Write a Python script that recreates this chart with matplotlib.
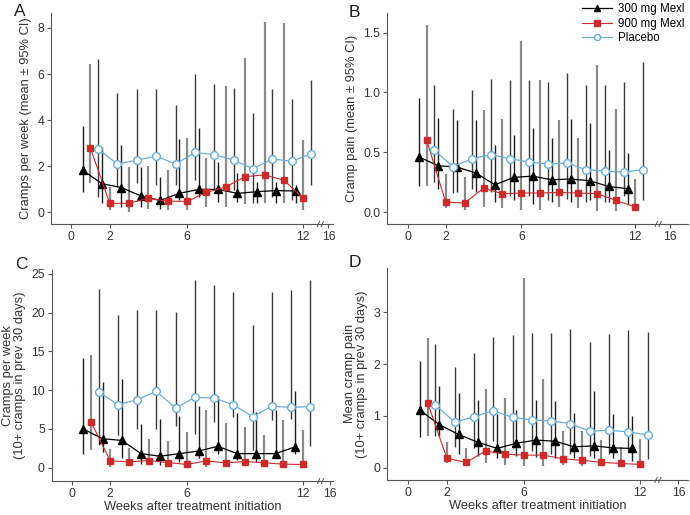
import numpy as np
import matplotlib
matplotlib.use("Agg")
import matplotlib.pyplot as plt
import matplotlib.transforms as mtransforms

##########  DATA  ##########
weeks = np.arange(1, 13)
series_names = ["300 mg Mexl", "900 mg Mexl", "Placebo"]

# Panel A - cramps per week
a_300 = [1.83, 1.25, 1.08, 0.72, 0.52, 0.83, 1.0, 1.0, 0.83, 0.9, 0.95, 0.93]
a_300_lo = [0.89, 0.39, 0.24, 0.24, 0.15, 0.53, 0.68, 0.46, 0.46, 0.40, 0.40, 0.40]
a_300_hi = [3.74, 2.84, 2.92, 1.98, 1.54, 3.20, 3.67, 2.20, 1.69, 1.30, 1.33, 1.20]
a_900 = [2.8, 0.4, 0.4, 0.62, 0.49, 0.48, 0.87, 1.11, 1.55, 1.63, 1.4, 0.61]
a_900_lo = [1.26, 0.10, 0.0, 0.17, 0.10, 0.10, 0.25, 0.25, 0.35, 0.39, 0.39, 0.10]
a_900_hi = [6.45, 1.11, 1.98, 2.00, 1.84, 3.24, 2.34, 5.47, 6.70, 8.26, 8.20, 3.16]
a_plc = [2.74, 2.1, 2.27, 2.44, 2.1, 2.6, 2.51, 2.27, 1.9, 2.32, 2.22, 2.54]
a_plc_lo = [0.68, 1.11, 1.26, 1.19, 1.18, 1.40, 1.00, 0.97, 0.39, 0.68, 0.53, 1.18]
a_plc_hi = [6.67, 5.16, 5.33, 5.37, 4.65, 6.02, 5.55, 5.40, 4.29, 5.33, 4.90, 5.73]

# Panel B - cramp pain
b_300 = [0.46, 0.387, 0.376, 0.326, 0.228, 0.29, 0.30, 0.27, 0.276, 0.262, 0.214, 0.195]
b_300_lo = [0.22, 0.19, 0.17, 0.17, 0.08, 0.10, 0.07, 0.08, 0.08, 0.10, 0.08, 0.07]
b_300_hi = [0.95, 0.79, 0.77, 0.77, 0.56, 0.64, 0.70, 0.62, 0.78, 0.74, 0.52, 0.49]
b_900 = [0.60, 0.084, 0.075, 0.20, 0.153, 0.159, 0.159, 0.164, 0.159, 0.153, 0.097, 0.042]
b_900_lo = [0.22, 0.03, 0.02, 0.04, 0.03, 0.02, 0.02, 0.04, 0.03, 0.01, 0.01, 0.01]
b_900_hi = [1.56, 0.32, 0.29, 0.85, 0.78, 1.43, 1.10, 0.77, 0.62, 1.23, 0.86, 0.28]
b_plc = [0.515, 0.38, 0.446, 0.48, 0.446, 0.418, 0.40, 0.41, 0.354, 0.343, 0.334, 0.354]
b_plc_lo = [0.25, 0.16, 0.19, 0.17, 0.13, 0.13, 0.10, 0.11, 0.08, 0.08, 0.13, 0.10]
b_plc_hi = [1.06, 0.86, 1.02, 1.11, 1.10, 1.10, 1.09, 1.16, 1.06, 1.06, 1.09, 1.25]

# Panel C - cramps per week, 10+ cramps subgroup
c_300 = [5.0, 3.75, 3.53, 1.83, 1.49, 1.83, 2.17, 2.77, 1.83, 1.83, 1.83, 2.68]
c_300_lo = [1.75, 2.0, 1.2, 0.5, 0.3, 0.77, 1.2, 1.8, 1.0, 0.8, 1.2, 1.8]
c_300_hi = [14.1, 11.0, 11.4, 5.66, 6.3, 6.7, 8.0, 9.2, 7.0, 7.15, 7.4, 9.9]
c_900 = [5.92, 0.89, 0.77, 0.94, 0.68, 0.43, 0.89, 0.64, 0.81, 0.64, 0.47, 0.43]
c_900_lo = [2.34, 0.1, 0.2, 0.3, 0.1, 0.1, 0.13, 0.1, 0.2, 0.1, 0.1, 0.1]
c_900_hi = [14.5, 2.47, 2.6, 3.75, 3.4, 4.6, 7.4, 5.75, 5.24, 4.2, 6.1, 4.9]
c_plc = [9.8, 8.13, 8.77, 9.84, 7.71, 9.07, 8.99, 8.13, 6.6, 7.92, 7.79, 7.88]
c_plc_lo = [3.0, 4.2, 5.0, 5.0, 5.45, 4.4, 5.9, 6.5, 2.3, 6.1, 6.3, 2.8]
c_plc_hi = [23.0, 19.7, 20.3, 20.3, 20.1, 24.2, 23.5, 22.7, 18.4, 22.7, 22.9, 24.2]

# Panel D - cramp pain, 10+ cramps subgroup
d_300 = [1.11, 0.83, 0.64, 0.49, 0.37, 0.47, 0.53, 0.51, 0.40, 0.42, 0.38, 0.37]
d_300_lo = [0.59, 0.61, 0.26, 0.22, 0.19, 0.22, 0.20, 0.18, 0.18, 0.18, 0.18, 0.13]
d_300_hi = [2.06, 1.57, 1.44, 1.31, 1.04, 1.12, 1.31, 1.28, 1.06, 1.47, 1.04, 1.00]
d_900 = [1.25, 0.18, 0.10, 0.32, 0.26, 0.24, 0.24, 0.17, 0.14, 0.10, 0.08, 0.06]
d_900_lo = [0.61, 0.08, 0.03, 0.08, 0.05, 0.03, 0.03, 0.05, 0.03, 0.03, 0.03, 0.03]
d_900_hi = [2.51, 0.50, 0.38, 1.52, 1.35, 3.67, 1.71, 0.70, 0.70, 0.54, 0.40, 0.56]
d_plc = [1.21, 0.88, 0.98, 1.10, 0.97, 0.92, 0.90, 0.85, 0.70, 0.72, 0.69, 0.63]
d_plc_lo = [0.61, 0.40, 0.38, 0.51, 0.38, 0.32, 0.26, 0.26, 0.22, 0.26, 0.32, 0.16]
d_plc_hi = [2.38, 1.94, 2.21, 2.53, 2.56, 2.60, 2.60, 2.67, 2.42, 2.58, 2.65, 2.62]

### styles ###
red = "#cc2b2b"
blue = "#6aaed6"
offsets = [-0.4, 0.0, 0.4]
bar_colors = ["#1e1e1e", "#8a8a8a", "#3a3a3a"]
bar_widths = [1.0, 1.6, 1.0]
spine_col = "#555555"
txt_col = "#333333"

plt.rcParams["font.family"] = ["Liberation Sans", "DejaVu Sans"]

fig = plt.figure(figsize=(6.9, 5.15), dpi=100)

panels = [
    dict(letter="A", rect=[0.074, 0.565, 0.409, 0.410], xlim=(-1.03, 13.55), x16=13.3, brk=12.9,
         ylim=(-0.5, 8.65), yticks=[0, 2, 4, 6, 8], ylabel="Cramps per week (mean ± 95% CI)",
         data=[(a_300, a_300_lo, a_300_hi), (a_900, a_900_lo, a_900_hi), (a_plc, a_plc_lo, a_plc_hi)]),
    dict(letter="B", rect=[0.5613, 0.565, 0.436, 0.409], xlim=(-1.08, 14.8), x16=13.86, brk=13.24,
         ylim=(-0.10, 1.66), yticks=[0.0, 0.5, 1.0, 1.5], ylabel="Cramp pain (mean ± 95% CI)",
         data=[(b_300, b_300_lo, b_300_hi), (b_900, b_900_lo, b_900_hi), (b_plc, b_plc_lo, b_plc_hi)]),
    dict(letter="C", rect=[0.075, 0.066, 0.408, 0.410], xlim=(-1.04, 13.6), x16=13.43, brk=12.96,
         ylim=(-1.7, 25.5), yticks=[0, 5, 10, 15, 20, 25],
         ylabel="Cramps per week\n(10+ cramps in prev 30 days)",
         data=[(c_300, c_300_lo, c_300_hi), (c_900, c_900_lo, c_900_hi), (c_plc, c_plc_lo, c_plc_hi)]),
    dict(letter="D", rect=[0.5613, 0.068, 0.436, 0.412], xlim=(-1.09, 14.5), x16=14.0, brk=12.95,
         ylim=(-0.24, 3.86), yticks=[0, 1, 2, 3],
         ylabel="Mean cramp pain\n(10+ cramps in prev 30 days)",
         data=[(d_300, d_300_lo, d_300_hi), (d_900, d_900_lo, d_900_hi), (d_plc, d_plc_lo, d_plc_hi)]),
]

marker_kw = [
    dict(marker="^", color="black", mfc="black", mec="black", ms=6.0, lw=0.9),
    dict(marker="s", color=red, mfc=red, mec=red, ms=5.0, lw=0.8),
    dict(marker="o", color=blue, mfc="white", mec=blue, ms=5.5, mew=1.0, lw=0.9),
]

for p in panels:
    ax = fig.add_axes(p["rect"])
    for i, (vals, lo, hi) in enumerate(p["data"]):
        xs = weeks + offsets[i]
        ax.vlines(xs, lo, hi, color=bar_colors[i], lw=bar_widths[i], zorder=1)
    for i, (vals, lo, hi) in enumerate(p["data"]):
        xs = weeks + offsets[i]
        ax.plot(xs, vals, label=series_names[i], zorder=3 + i, **marker_kw[i])

    ax.set_xlim(*p["xlim"])
    ax.set_ylim(*p["ylim"])
    ax.set_xticks([0, 2, 6, 12, p["x16"]])
    ax.set_xticklabels(["0", "2", "6", "12", "16"])
    ax.set_yticks(p["yticks"])
    if p["letter"] == "B":
        ax.set_yticklabels(["0.0", "0.5", "1.0", "1.5"])
    for s in ["top", "right"]:
        ax.spines[s].set_visible(False)
    for s in ["left", "bottom"]:
        ax.spines[s].set_color(spine_col)
        ax.spines[s].set_linewidth(0.8)
    ax.tick_params(colors=spine_col, labelcolor=txt_col, labelsize=8.8, length=3, width=0.8, pad=2)
    ax.set_ylabel(p["ylabel"], fontsize=9.3, color=txt_col, labelpad=4, linespacing=1.0)
    if p["letter"] in ("C", "D"):
        ax.set_xlabel("Weeks after treatment initiation", fontsize=9.3, color=txt_col, labelpad=0.5)

    # axis break marks
    trans = mtransforms.blended_transform_factory(ax.transData, ax.transAxes)
    for dx in (-0.12, 0.08):
        ax.plot([p["brk"] + dx - 0.06, p["brk"] + dx + 0.06], [-0.012, 0.012],
                color=spine_col, lw=0.7, transform=trans, clip_on=False, zorder=5)

    ytop = 1.04 if p["letter"] in ("A", "B") else 1.06
    ax.text(-0.13, ytop, p["letter"], transform=ax.transAxes, fontsize=12.5,
            color="#222222", va="top", ha="left")

    if p["letter"] == "B":
        ax.legend(loc="upper right", bbox_to_anchor=(1.008, 1.075), frameon=False, fontsize=8.3,
                  handlelength=2.6, labelspacing=0.22, handletextpad=0.55, borderpad=0.0,
                  markerscale=0.8)

fig.savefig("out.png", dpi=100)
